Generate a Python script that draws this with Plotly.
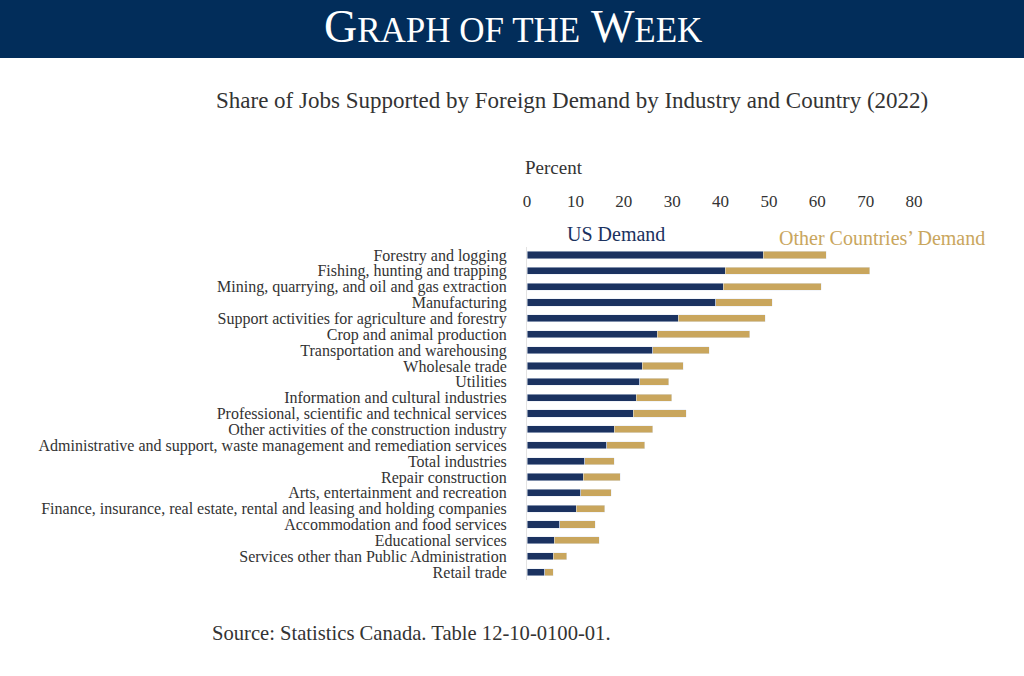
import plotly.graph_objects as go

industries = [
    'Forestry and logging',
    'Fishing, hunting and trapping',
    'Mining, quarrying, and oil and gas extraction',
    'Manufacturing',
    'Support activities for agriculture and forestry',
    'Crop and animal production',
    'Transportation and warehousing',
    'Wholesale trade',
    'Utilities',
    'Information and cultural industries',
    'Professional, scientific and technical services',
    'Other activities of the construction industry',
    'Administrative and support, waste management and remediation services',
    'Total industries',
    'Repair construction',
    'Arts, entertainment and recreation',
    'Finance, insurance, real estate, rental and leasing and holding companies',
    'Accommodation and food services',
    'Educational services',
    'Services other than Public Administration',
    'Retail trade',
]
us_demand = [48.8, 41.0, 40.6, 39.0, 31.3, 26.9, 26.0, 23.8, 23.3, 22.6, 22.0,
             18.0, 16.5, 11.9, 11.6, 11.1, 10.2, 6.8, 5.6, 5.4, 3.7]
other_demand = [13.1, 29.9, 20.2, 11.7, 17.9, 19.1, 11.7, 8.5, 6.0, 7.3, 10.9,
                8.0, 7.8, 6.1, 7.7, 6.3, 5.9, 7.3, 9.3, 2.8, 1.7]
x_ticks = [0, 10, 20, 30, 40, 50, 60, 70, 80]

NAVY = '#1b3260'
GOLD = '#c9a65d'
HEADER = '#022d5a'
FONT = 'Liberation Serif'

W, H = 1024, 676
L, R, T, B = 527, 914, 247, 580


def xp(px):
    return (px - L) / (R - L)


def yp(py):
    return (B - py) / (B - T)


fig = go.Figure()
fig.add_trace(go.Bar(y=industries, x=us_demand, orientation='h',
                     marker_color=NAVY, name='US Demand'))
fig.add_trace(go.Bar(y=industries, x=other_demand, orientation='h',
                     marker_color=GOLD, name="Other Countries' Demand"))

fig.update_layout(
    width=W, height=H,
    margin=dict(l=L, r=W - R, t=T, b=H - B, pad=0),
    barmode='stack', bargap=0.55,
    showlegend=False,
    plot_bgcolor='white', paper_bgcolor='white',
    font=dict(family=FONT, color='#333333'),
)
fig.update_xaxes(range=[0, 80], side='top', tickvals=x_ticks, showgrid=False,
                 zeroline=False, showline=False, ticks='',
                 tickfont=dict(size=17, color='#333333'),
                 ticklabelstandoff=36)
fig.update_yaxes(autorange='reversed', dtick=1, showgrid=False, showline=True,
                 linecolor='#e3e3e3', linewidth=1, ticks='',
                 tickfont=dict(size=16, color='#333333'),
                 ticklabelstandoff=16)

# header band
fig.add_shape(type='rect', xref='paper', yref='paper',
              x0=xp(0), x1=xp(W), y0=yp(58), y1=yp(0),
              fillcolor=HEADER, line_width=0, layer='below')

big, small = 46, 35
hdr = (f'G<span style="font-size:{small}px">RAPH OF THE</span> '
       f'W<span style="font-size:{small}px">EEK</span>')
fig.add_annotation(text=hdr, xref='paper', yref='paper', x=xp(513), y=yp(26),
                   xanchor='center', yanchor='middle', showarrow=False,
                   font=dict(family=FONT, size=big, color='white'))

fig.add_annotation(text='Share of Jobs Supported by Foreign Demand by Industry and Country (2022)',
                   xref='paper', yref='paper', x=xp(572), y=yp(101),
                   xanchor='center', yanchor='middle', showarrow=False,
                   font=dict(family=FONT, size=23, color='#333333'))

fig.add_annotation(text='Percent', xref='paper', yref='paper', x=xp(523), y=yp(167),
                   xanchor='left', yanchor='middle', showarrow=False,
                   font=dict(family=FONT, size=19, color='#333333'))

fig.add_annotation(text='US Demand', xref='paper', yref='paper', x=xp(565), y=yp(234),
                   xanchor='left', yanchor='middle', showarrow=False,
                   font=dict(family=FONT, size=20, color=NAVY))
fig.add_annotation(text="Other Countries’ Demand", xref='paper', yref='paper',
                   x=xp(777), y=yp(238), xanchor='left', yanchor='middle',
                   showarrow=False, font=dict(family=FONT, size=20, color=GOLD))

fig.add_annotation(text='Source: Statistics Canada. Table 12-10-0100-01.',
                   xref='paper', yref='paper', x=xp(210), y=yp(633),
                   xanchor='left', yanchor='middle', showarrow=False,
                   font=dict(family=FONT, size=20.6, color='#333333'))

fig.write_html('out.html', config={'displayModeBar': False},
               post_script="document.body.style.margin='0';")
